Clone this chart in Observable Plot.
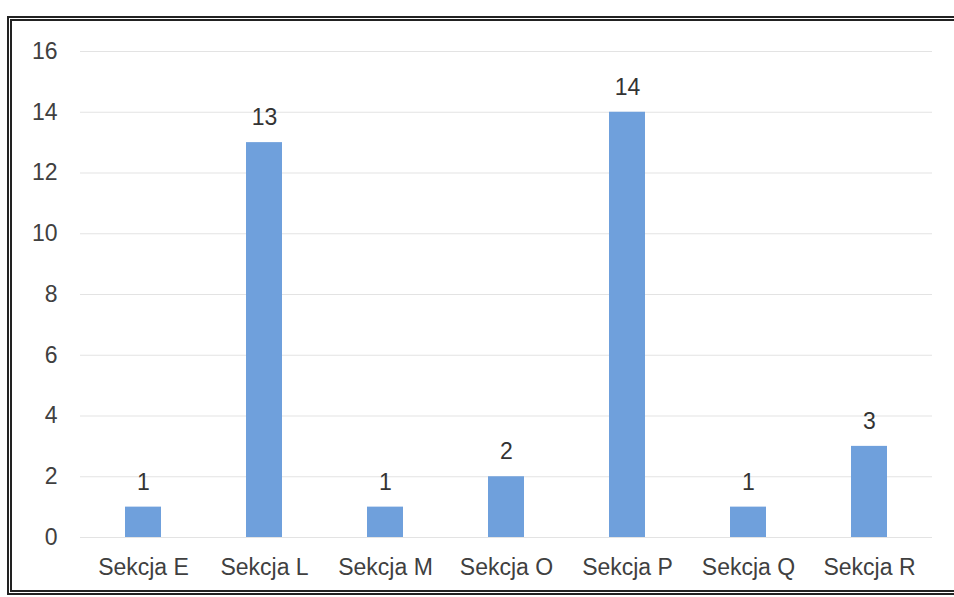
<!DOCTYPE html>
<html>
<head>
<meta charset="utf-8">
<script src="https://cdn.jsdelivr.net/npm/d3@7"></script>
<script src="https://cdn.jsdelivr.net/npm/@observablehq/plot@0.6"></script>
<style>
  html, body { margin: 0; padding: 0; background: #fff; }
  #wrap { position: relative; width: 954px; height: 597px; overflow: hidden; }
  #frame { position: absolute; left: 7px; top: 16px; width: 960px; height: 579px;
           border: 5px double #222; box-sizing: border-box; pointer-events: none; }
  #chart { position: absolute; left: 0; top: 0; }
</style>
</head>
<body>
<div id="wrap">
  <div id="chart"></div>
  <div id="frame"></div>
</div>
<script>
const categories = ["Sekcja E", "Sekcja L", "Sekcja M", "Sekcja O", "Sekcja P", "Sekcja Q", "Sekcja R"];
const values = [1, 13, 1, 2, 14, 1, 3];
const yTicks = [0, 2, 4, 6, 8, 10, 12, 14, 16];

const data = categories.map((c, i) => ({category: c, value: values[i]}));

const chart = Plot.plot({
  width: 954,
  height: 597,
  marginLeft: 80,
  marginRight: 22,
  marginTop: 51,
  marginBottom: 60,
  style: {fontFamily: "Liberation Sans, Arial, sans-serif", fontSize: "23px", color: "#404040", background: "transparent"},
  x: {domain: categories, paddingInner: 0.7, paddingOuter: 0.35, label: null, tickSize: 0, tickPadding: 21},
  y: {domain: [0, 16], ticks: yTicks, label: null, tickSize: 0, tickPadding: 23},
  marks: [
    Plot.gridY(yTicks, {stroke: "#e3e3e3", strokeOpacity: 1, strokeWidth: 1}),
    Plot.barY(data, {x: "category", y: "value", fill: "#6fa0dc"}),
    Plot.text(data, {x: "category", y: "value", text: d => String(d.value), dy: -25, fill: "#333", fontSize: 23})
  ]
});
document.getElementById("chart").appendChild(chart);
</script>
</body>
</html>
